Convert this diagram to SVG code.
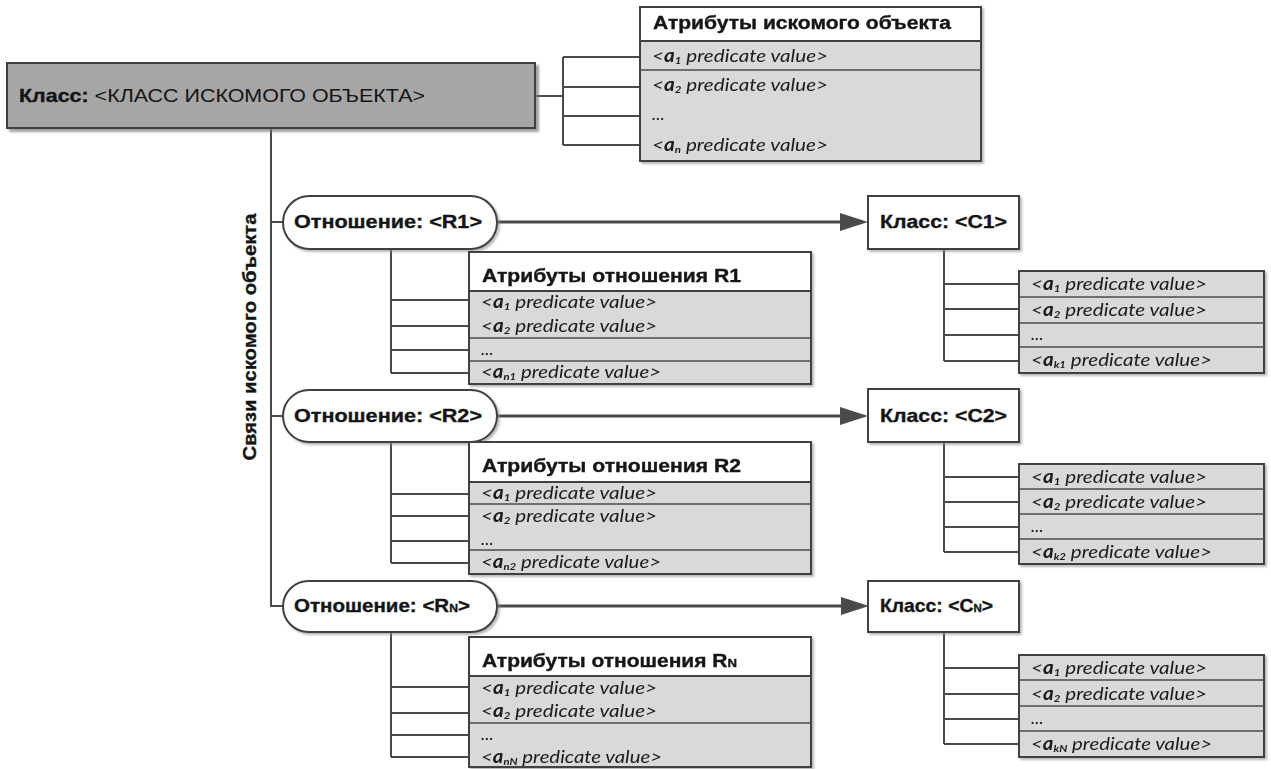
<svg xmlns="http://www.w3.org/2000/svg" width="1271" height="769" viewBox="0 0 1271 769">
  <defs>
    <style>
      .ln { stroke: #4a4a4a; stroke-width: 2; fill: none; }
      .arr { stroke: #4a4a4a; stroke-width: 3; fill: none; }
      .hdr { fill: #ffffff; stroke: #3f3f3f; stroke-width: 2; }
      .body { fill: #d9d9d9; stroke: #3f3f3f; stroke-width: 2; }
      .sep { stroke: #4a4a4a; stroke-width: 1.5; }
      .bx { fill: #ffffff; stroke: #3f3f3f; stroke-width: 2; }
      .pill { fill: #ffffff; stroke: #3f3f3f; stroke-width: 2; }
      .main { fill: #a6a6a6; stroke: #3f3f3f; stroke-width: 2; }
      .tb { font-family: "Liberation Sans", Arial, sans-serif; font-weight: bold; font-size: 18.5px; fill: #141414; stroke: #141414; stroke-width: 0.35; }
      .tr { font-family: "Liberation Sans", Arial, sans-serif; font-size: 18.5px; fill: #141414; stroke: none; }
      .th { font-family: "Liberation Sans", Arial, sans-serif; font-weight: bold; font-size: 17.5px; fill: #141414; stroke: #141414; stroke-width: 0.35; }
      .row { font-family: Lato, "Open Sans", sans-serif; font-style: italic; font-size: 18px; fill: #1a1a1a; }
      .v { font-weight: bold; }
      .sub { font-size: 10px; font-weight: bold; }
      .subh { font-size: 11px; }
    </style>
    <filter id="sh" x="-5%" y="-5%" width="115%" height="130%">
      <feGaussianBlur in="SourceAlpha" stdDeviation="1.2"/>
      <feOffset dx="3" dy="3" result="o"/>
      <feFlood flood-color="#7a7a7a" flood-opacity="0.7"/>
      <feComposite in2="o" operator="in"/>
      <feMerge><feMergeNode/><feMergeNode in="SourceGraphic"/></feMerge>
    </filter>
    <filter id="shs" x="-5%" y="-5%" width="115%" height="130%">
      <feGaussianBlur in="SourceAlpha" stdDeviation="0.8"/>
      <feOffset dx="2" dy="2" result="o"/>
      <feFlood flood-color="#8a8a8a" flood-opacity="0.6"/>
      <feComposite in2="o" operator="in"/>
      <feMerge><feMergeNode/><feMergeNode in="SourceGraphic"/></feMerge>
    </filter>
    <marker id="ah" markerUnits="userSpaceOnUse" markerWidth="30" markerHeight="20" refX="5" refY="9" orient="auto">
      <path d="M0,0 L28,9 L0,18 z" fill="#4a4a4a"/>
    </marker>
  </defs>

  <rect width="1271" height="769" fill="#ffffff"/>

  <!-- connectors -->
  <g id="connectors">
    <!-- main class to its attribute table -->
    <path class="ln" d="M535,96 H563 M563,57 V145 M563,57 H640 M563,87 H640 M563,116 H640 M563,145 H640"/>
    <!-- trunk of relations -->
    <path class="ln" d="M271,128 V606 H283 M271,222 H283 M271,416 H283"/>
    <!-- relation R1 to its attributes -->
    <path class="ln" d="M391,249 V373 M391,300 H469 M391,326 H469 M391,350 H469 M391,373 H469"/>
    <!-- relation R2 to its attributes -->
    <path class="ln" d="M391,442 V563 M391,494 H469 M391,516 H469 M391,541 H469 M391,563 H469"/>
    <!-- relation RN to its attributes -->
    <path class="ln" d="M391,632 V757 M391,687 H469 M391,713 H469 M391,735 H469 M391,757 H469"/>
    <!-- class C1 to its attributes -->
    <path class="ln" d="M944,249 V361 M944,284 H1019 M944,309 H1019 M944,335 H1019 M944,361 H1019"/>
    <!-- class C2 to its attributes -->
    <path class="ln" d="M944,442 V552 M944,477 H1019 M944,502 H1019 M944,527 H1019 M944,552 H1019"/>
    <!-- class CN to its attributes -->
    <path class="ln" d="M944,632 V744 M944,668 H1019 M944,694 H1019 M944,719 H1019 M944,744 H1019"/>
    <!-- relation arrows -->
    <line class="arr" x1="497" y1="222" x2="845" y2="222" marker-end="url(#ah)"/>
    <line class="arr" x1="497" y1="416" x2="845" y2="416" marker-end="url(#ah)"/>
    <line class="arr" x1="497" y1="606" x2="846" y2="606" marker-end="url(#ah)"/>
  </g>

  <!-- target object class -->
  <g id="main-class">
    <rect class="main" x="7" y="63" width="528" height="65" filter="url(#sh)"/>
    <text x="19" y="102" textLength="406" lengthAdjust="spacingAndGlyphs"><tspan class="tb">Класс:</tspan><tspan class="tr"> &lt;КЛАСС ИСКОМОГО ОБЪЕКТА&gt;</tspan></text>
  </g>

  <!-- vertical label of the relations trunk -->
  <g id="links-label">
    <text class="tb" transform="translate(256,337) rotate(-90)" text-anchor="middle" font-size="19px" textLength="247" lengthAdjust="spacingAndGlyphs">Связи искомого объекта</text>
  </g>

  <!-- attributes of the target object -->
  <g id="main-attrs" filter="url(#shs)">
    <rect class="body" x="640" y="41" width="341" height="120"/>
    <rect class="hdr" x="640" y="7" width="341" height="34"/>
    <line class="sep" x1="640" y1="70" x2="981" y2="70"/>
    <text class="th" x="653" y="29" textLength="298" lengthAdjust="spacingAndGlyphs">Атрибуты искомого объекта</text>
    <text class="row" x="652" y="62" textLength="176" lengthAdjust="spacingAndGlyphs">&lt;<tspan class="v">a</tspan><tspan class="sub" dy="2">1</tspan><tspan dy="-2"> predicate value&gt;</tspan></text>
    <text class="row" x="652" y="91" textLength="176" lengthAdjust="spacingAndGlyphs">&lt;<tspan class="v">a</tspan><tspan class="sub" dy="2">2</tspan><tspan dy="-2"> predicate value&gt;</tspan></text>
    <text class="row" x="652" y="120">...</text>
    <text class="row" x="652" y="151" textLength="176" lengthAdjust="spacingAndGlyphs">&lt;<tspan class="v">a</tspan><tspan class="sub" dy="2">n</tspan><tspan dy="-2"> predicate value&gt;</tspan></text>
  </g>

  <!-- relation R1 -->
  <g id="rel-r1">
    <rect class="pill" x="283" y="196" width="214" height="53" rx="26.5" filter="url(#shs)"/>
    <text class="tb" x="294" y="228" textLength="188" lengthAdjust="spacingAndGlyphs">Отношение: &lt;R1&gt;</text>
  </g>
  <g id="rel-r1-attrs" filter="url(#shs)">
    <rect class="body" x="469" y="291" width="342" height="93"/>
    <rect class="hdr" x="469" y="252" width="342" height="39"/>
    <line class="sep" x1="469" y1="338" x2="811" y2="338"/>
    <line class="sep" x1="469" y1="361" x2="811" y2="361"/>
    <text class="th" x="482" y="282" textLength="259" lengthAdjust="spacingAndGlyphs">Атрибуты отношения R1</text>
    <text class="row" x="481" y="308" textLength="176" lengthAdjust="spacingAndGlyphs">&lt;<tspan class="v">a</tspan><tspan class="sub" dy="2">1</tspan><tspan dy="-2"> predicate value&gt;</tspan></text>
    <text class="row" x="481" y="332" textLength="176" lengthAdjust="spacingAndGlyphs">&lt;<tspan class="v">a</tspan><tspan class="sub" dy="2">2</tspan><tspan dy="-2"> predicate value&gt;</tspan></text>
    <text class="row" x="481" y="355">...</text>
    <text class="row" x="481" y="378" textLength="180" lengthAdjust="spacingAndGlyphs">&lt;<tspan class="v">a</tspan><tspan class="sub" dy="2">n1</tspan><tspan dy="-2"> predicate value&gt;</tspan></text>
  </g>
  <g id="class-c1">
    <rect class="bx" x="868" y="196" width="151" height="53" filter="url(#shs)"/>
    <text class="tb" x="880" y="228" textLength="127" lengthAdjust="spacingAndGlyphs">Класс: &lt;C1&gt;</text>
  </g>
  <g id="class-c1-attrs" filter="url(#shs)">
    <rect class="body" x="1019" y="271" width="245" height="102"/>
    <line class="sep" x1="1019" y1="297" x2="1264" y2="297"/>
    <line class="sep" x1="1019" y1="323" x2="1264" y2="323"/>
    <line class="sep" x1="1019" y1="347" x2="1264" y2="347"/>
    <text class="row" x="1031" y="290" textLength="176" lengthAdjust="spacingAndGlyphs">&lt;<tspan class="v">a</tspan><tspan class="sub" dy="2">1</tspan><tspan dy="-2"> predicate value&gt;</tspan></text>
    <text class="row" x="1031" y="316" textLength="176" lengthAdjust="spacingAndGlyphs">&lt;<tspan class="v">a</tspan><tspan class="sub" dy="2">2</tspan><tspan dy="-2"> predicate value&gt;</tspan></text>
    <text class="row" x="1031" y="340">...</text>
    <text class="row" x="1031" y="366" textLength="181" lengthAdjust="spacingAndGlyphs">&lt;<tspan class="v">a</tspan><tspan class="sub" dy="2">k1</tspan><tspan dy="-2"> predicate value&gt;</tspan></text>
  </g>

  <!-- relation R2 -->
  <g id="rel-r2">
    <rect class="pill" x="283" y="390" width="214" height="52" rx="26" filter="url(#shs)"/>
    <text class="tb" x="294" y="422" textLength="188" lengthAdjust="spacingAndGlyphs">Отношение: &lt;R2&gt;</text>
  </g>
  <g id="rel-r2-attrs" filter="url(#shs)">
    <rect class="body" x="469" y="482" width="342" height="92"/>
    <rect class="hdr" x="469" y="442" width="342" height="40"/>
    <line class="sep" x1="469" y1="504" x2="811" y2="504"/>
    <line class="sep" x1="469" y1="550" x2="811" y2="550"/>
    <text class="th" x="482" y="472" textLength="259" lengthAdjust="spacingAndGlyphs">Атрибуты отношения R2</text>
    <text class="row" x="481" y="499" textLength="176" lengthAdjust="spacingAndGlyphs">&lt;<tspan class="v">a</tspan><tspan class="sub" dy="2">1</tspan><tspan dy="-2"> predicate value&gt;</tspan></text>
    <text class="row" x="481" y="522" textLength="176" lengthAdjust="spacingAndGlyphs">&lt;<tspan class="v">a</tspan><tspan class="sub" dy="2">2</tspan><tspan dy="-2"> predicate value&gt;</tspan></text>
    <text class="row" x="481" y="545">...</text>
    <text class="row" x="481" y="568" textLength="180" lengthAdjust="spacingAndGlyphs">&lt;<tspan class="v">a</tspan><tspan class="sub" dy="2">n2</tspan><tspan dy="-2"> predicate value&gt;</tspan></text>
  </g>
  <g id="class-c2">
    <rect class="bx" x="868" y="389" width="151" height="53" filter="url(#shs)"/>
    <text class="tb" x="880" y="422" textLength="127" lengthAdjust="spacingAndGlyphs">Класс: &lt;C2&gt;</text>
  </g>
  <g id="class-c2-attrs" filter="url(#shs)">
    <rect class="body" x="1019" y="464" width="245" height="100"/>
    <line class="sep" x1="1019" y1="489" x2="1264" y2="489"/>
    <line class="sep" x1="1019" y1="514" x2="1264" y2="514"/>
    <line class="sep" x1="1019" y1="539" x2="1264" y2="539"/>
    <text class="row" x="1031" y="483" textLength="176" lengthAdjust="spacingAndGlyphs">&lt;<tspan class="v">a</tspan><tspan class="sub" dy="2">1</tspan><tspan dy="-2"> predicate value&gt;</tspan></text>
    <text class="row" x="1031" y="508" textLength="176" lengthAdjust="spacingAndGlyphs">&lt;<tspan class="v">a</tspan><tspan class="sub" dy="2">2</tspan><tspan dy="-2"> predicate value&gt;</tspan></text>
    <text class="row" x="1031" y="532">...</text>
    <text class="row" x="1031" y="558" textLength="181" lengthAdjust="spacingAndGlyphs">&lt;<tspan class="v">a</tspan><tspan class="sub" dy="2">k2</tspan><tspan dy="-2"> predicate value&gt;</tspan></text>
  </g>

  <!-- relation RN -->
  <g id="rel-rn">
    <rect class="pill" x="283" y="581" width="214" height="51" rx="25.5" filter="url(#shs)"/>
    <text class="tb" x="294" y="612" textLength="176" lengthAdjust="spacingAndGlyphs">Отношение: &lt;R<tspan class="subh">N</tspan>&gt;</text>
  </g>
  <g id="rel-rn-attrs" filter="url(#shs)">
    <rect class="body" x="469" y="676" width="342" height="91"/>
    <rect class="hdr" x="469" y="637" width="342" height="39"/>
    <line class="sep" x1="469" y1="723" x2="811" y2="723"/>
    <text class="th" x="482" y="667" textLength="255" lengthAdjust="spacingAndGlyphs">Атрибуты отношения R<tspan class="subh">N</tspan></text>
    <text class="row" x="481" y="694" textLength="176" lengthAdjust="spacingAndGlyphs">&lt;<tspan class="v">a</tspan><tspan class="sub" dy="2">1</tspan><tspan dy="-2"> predicate value&gt;</tspan></text>
    <text class="row" x="481" y="717" textLength="176" lengthAdjust="spacingAndGlyphs">&lt;<tspan class="v">a</tspan><tspan class="sub" dy="2">2</tspan><tspan dy="-2"> predicate value&gt;</tspan></text>
    <text class="row" x="481" y="740">...</text>
    <text class="row" x="481" y="763" textLength="181" lengthAdjust="spacingAndGlyphs">&lt;<tspan class="v">a</tspan><tspan class="sub" dy="2">nN</tspan><tspan dy="-2"> predicate value&gt;</tspan></text>
  </g>
  <g id="class-cn">
    <rect class="bx" x="868" y="581" width="151" height="51" filter="url(#shs)"/>
    <text class="tb" x="880" y="612" textLength="113" lengthAdjust="spacingAndGlyphs">Класс: &lt;C<tspan class="subh">N</tspan>&gt;</text>
  </g>
  <g id="class-cn-attrs" filter="url(#shs)">
    <rect class="body" x="1019" y="655" width="245" height="102"/>
    <line class="sep" x1="1019" y1="680" x2="1264" y2="680"/>
    <line class="sep" x1="1019" y1="706" x2="1264" y2="706"/>
    <line class="sep" x1="1019" y1="731" x2="1264" y2="731"/>
    <text class="row" x="1031" y="674" textLength="176" lengthAdjust="spacingAndGlyphs">&lt;<tspan class="v">a</tspan><tspan class="sub" dy="2">1</tspan><tspan dy="-2"> predicate value&gt;</tspan></text>
    <text class="row" x="1031" y="700" textLength="176" lengthAdjust="spacingAndGlyphs">&lt;<tspan class="v">a</tspan><tspan class="sub" dy="2">2</tspan><tspan dy="-2"> predicate value&gt;</tspan></text>
    <text class="row" x="1031" y="724">...</text>
    <text class="row" x="1031" y="750" textLength="181" lengthAdjust="spacingAndGlyphs">&lt;<tspan class="v">a</tspan><tspan class="sub" dy="2">kN</tspan><tspan dy="-2"> predicate value&gt;</tspan></text>
  </g>
</svg>
